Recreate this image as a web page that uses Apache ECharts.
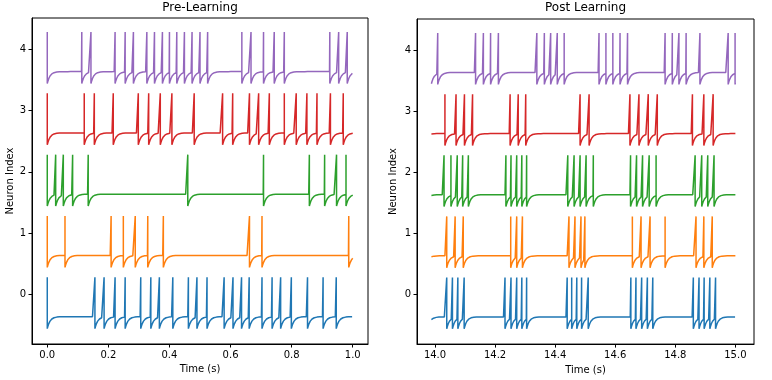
<!DOCTYPE html>
<html>
<head>
<meta charset="utf-8">
<script src="https://cdn.jsdelivr.net/npm/echarts@6/dist/echarts.min.js"></script>
<style>html,body{margin:0;padding:0;background:#fff}#c{width:772px;height:380px}</style>
</head>
<body>
<div id="c"></div>
<script>
// ---- data (spike times) ----
const neuronIndex = [0, 1, 2, 3, 4];
const colors = ['#1f77b4', '#ff7f0e', '#2ca02c', '#d62728', '#9467bd'];
const yTicks = [0, 1, 2, 3, 4];
const xTicksPre = [0.0, 0.2, 0.4, 0.6, 0.8, 1.0];
const xTicksPost = [14.0, 14.2, 14.4, 14.6, 14.8, 15.0];

// Pre-learning spike times (s)
const preSpikes0 = [0, 0.156, 0.186, 0.222, 0.255, 0.306, 0.339, 0.367, 0.411, 0.462, 0.49, 0.523, 0.579, 0.608, 0.636, 0.661, 0.703, 0.736, 0.764, 0.799, 0.852, 0.903, 0.946];
const preSpikes1 = [0, 0.058, 0.209, 0.249, 0.288, 0.329, 0.38, 0.662, 0.703, 0.987];
const preSpikes2 = [0, 0.0275, 0.0525, 0.083, 0.134, 0.46, 0.708, 0.858, 0.908, 0.947, 0.978];
const preSpikes3 = [0, 0.121, 0.154, 0.216, 0.298, 0.332, 0.37, 0.408, 0.481, 0.574, 0.607, 0.662, 0.692, 0.727, 0.776, 0.815, 0.85, 0.883, 0.927, 0.969];
const preSpikes4 = [0, 0.113, 0.143, 0.222, 0.255, 0.282, 0.326, 0.351, 0.377, 0.4, 0.424, 0.449, 0.474, 0.5, 0.525, 0.637, 0.667, 0.708, 0.743, 0.776, 0.925, 0.954, 0.982];

// Post-learning spike times (s)
const postSpikes0 = [14.039, 14.058, 14.076, 14.097, 14.233, 14.253, 14.272, 14.289, 14.305, 14.44, 14.455, 14.472, 14.488, 14.51, 14.652, 14.669, 14.688, 14.707, 14.725, 14.86, 14.879, 14.896, 14.915, 14.934];
const postSpikes1 = [14.039, 14.067, 14.094, 14.252, 14.272, 14.291, 14.446, 14.466, 14.486, 14.499, 14.657, 14.686, 14.716, 14.766, 14.869, 14.895, 14.923];
const postSpikes2 = [14.03, 14.053, 14.074, 14.092, 14.111, 14.236, 14.253, 14.272, 14.289, 14.305, 14.442, 14.463, 14.483, 14.503, 14.527, 14.651, 14.671, 14.691, 14.713, 14.736, 14.866, 14.888, 14.908, 14.929];
const postSpikes3 = [14.033, 14.07, 14.098, 14.125, 14.25, 14.277, 14.302, 14.483, 14.513, 14.649, 14.679, 14.71, 14.74, 14.857, 14.895, 14.926];
const postSpikes4 = [14.009, 14.135, 14.161, 14.185, 14.211, 14.339, 14.364, 14.385, 14.407, 14.43, 14.546, 14.569, 14.592, 14.616, 14.641, 14.766, 14.79, 14.812, 14.836, 14.882, 14.976, 14.999];

// trace start/end and starting offsets (relative to neuron index)
const preRange = [0, 1.0];
const postRange = [13.988, 15.0];
const postStartOffset = [-0.41, -0.38, -0.38, -0.37, -0.55];

const preSpikes = [preSpikes0, preSpikes1, preSpikes2, preSpikes3, preSpikes4];
const postSpikes = [postSpikes0, postSpikes1, postSpikes2, postSpikes3, postSpikes4];

// ---- membrane trace model (reset + exponential recovery) ----
const BASE = -0.365, PEAK = 0.28, RESET = -0.56, TAU = 0.009, DT = 0.001;
function buildTrace(range, spikes, idx, startOffset) {
  const base = idx + BASE, peak = idx + PEAK, reset = idx + RESET;
  const t0 = range[0], t1 = range[1];
  let lastT = t0, lastV = idx + startOffset;
  const vAt = t => base + (lastV - base) * Math.exp(-(t - lastT) / TAU);
  const out = [];
  let si = 0;
  if (spikes.length && Math.abs(spikes[0] - t0) < 1e-9) {
    out.push([t0, peak], [t0, reset]); lastT = t0; lastV = reset; si = 1;
  } else {
    out.push([t0, lastV]);
  }
  const n = Math.round((t1 - t0) / DT);
  for (let k = 1; k <= n; k++) {
    const t = t0 + k * DT;
    while (si < spikes.length && spikes[si] <= t + 1e-9) {
      const ts = spikes[si];
      out.push([ts, vAt(ts)], [ts, peak], [ts, reset]);
      lastT = ts; lastV = reset; si++;
    }
    out.push([t, vAt(t)]);
  }
  return out;
}

const FONT = 'DejaVu Sans';
const series = [];
neuronIndex.forEach(i => {
  series.push({ type: 'line', xAxisIndex: 0, yAxisIndex: 0, showSymbol: false, symbol: 'none',
    data: buildTrace(preRange, preSpikes[i], i, BASE), lineStyle: { color: colors[i], width: 1.5 },
    itemStyle: { color: colors[i] }, animation: false, silent: true });
});
neuronIndex.forEach(i => {
  series.push({ type: 'line', xAxisIndex: 1, yAxisIndex: 1, showSymbol: false, symbol: 'none',
    data: buildTrace(postRange, postSpikes[i], i, postStartOffset[i]), lineStyle: { color: colors[i], width: 1.5 },
    itemStyle: { color: colors[i] }, animation: false, silent: true });
});

function xAxis(grid, min, max, ticks) {
  return { type: 'value', gridIndex: grid, min: min, max: max,
    name: 'Time (s)', nameLocation: 'middle', nameGap: 20,
    nameTextStyle: { fontFamily: FONT, fontSize: 10, color: '#000' },
    axisLine: { show: true, onZero: false, lineStyle: { color: '#000', width: 1 } },
    axisTick: { show: true, inside: false, length: 3.5, customValues: ticks, lineStyle: { color: '#000' } },
    axisLabel: { show: true, margin: 6, customValues: ticks, fontFamily: FONT, fontSize: 10, color: '#000',
      formatter: v => v.toFixed(1), showMinLabel: true, showMaxLabel: true },
    splitLine: { show: false } };
}
function yAxis(grid, gap) {
  return { type: 'value', gridIndex: grid, min: -0.81, max: 4.51,
    name: 'Neuron Index', nameLocation: 'middle', nameGap: gap, nameRotate: 90,
    nameTextStyle: { fontFamily: FONT, fontSize: 10, color: '#000' },
    axisLine: { show: true, onZero: false, lineStyle: { color: '#000', width: 1 } },
    axisTick: { show: true, inside: false, length: 3.5, customValues: yTicks, lineStyle: { color: '#000' } },
    axisLabel: { show: true, margin: 6, customValues: yTicks, fontFamily: FONT, fontSize: 10, color: '#000',
      formatter: v => String(Math.round(v)) },
    splitLine: { show: false } };
}

const chart = echarts.init(document.getElementById('c'), null, { renderer: 'canvas' });
chart.setOption({
  animation: false,
  backgroundColor: '#fff',
  grid: [
    { left: 32, top: 18, width: 336, height: 326, show: true, borderColor: '#000', borderWidth: 1, backgroundColor: 'transparent' },
    { left: 417, top: 19, width: 337, height: 326, show: true, borderColor: '#000', borderWidth: 1, backgroundColor: 'transparent' }
  ],
  xAxis: [xAxis(0, -0.05, 1.05, xTicksPre), xAxis(1, 13.94, 15.062, xTicksPost)],
  yAxis: [yAxis(0, 16), yAxis(1, 19)],
  graphic: [
    { type: 'text', x: 200, y: 8, style: { text: 'Pre-Learning', fontFamily: FONT, fontSize: 12, fill: '#000', textAlign: 'center', textVerticalAlign: 'middle' } },
    { type: 'text', x: 585.5, y: 8, style: { text: 'Post Learning', fontFamily: FONT, fontSize: 12, fill: '#000', textAlign: 'center', textVerticalAlign: 'middle' } }
  ],
  series: series
});
</script>
</body>
</html>
